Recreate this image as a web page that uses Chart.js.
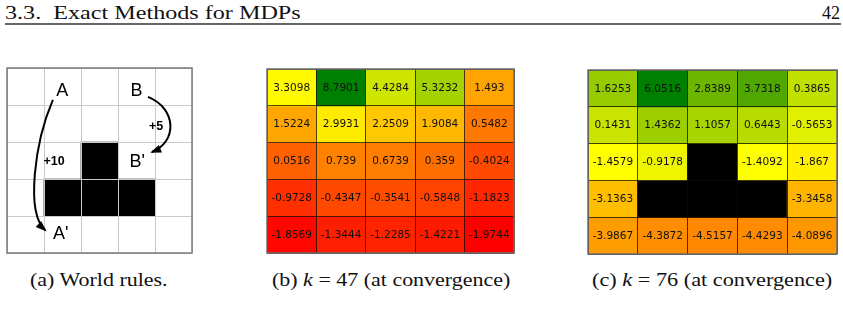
<!DOCTYPE html>
<html>
<head>
<meta charset="utf-8">
<script src="https://cdn.jsdelivr.net/npm/chart.js@4.4.1/dist/chart.umd.min.js"></script>
<style>
  body { margin: 0; background: #fff; width: 843px; height: 318px; position: relative; overflow: hidden; font-family: "Liberation Serif", serif; color: #111; }
  canvas { position: absolute; }
  .txt { position: absolute; white-space: pre; line-height: 1; transform-origin: left top; }
  .rule { position: absolute; left: 5px; top: 23px; width: 836px; height: 1.5px; background: #666; }
</style>
</head>
<body>
<div class="txt" id="head" style="left:5px;top:4px;font-size:18px">3.3.  Exact Methods for MDPs</div>
<div class="txt" id="page" style="left:822px;top:4px;font-size:18px">42</div>
<div class="rule"></div>

<canvas id="worldChart" width="195" height="195" style="left:2px;top:63px"></canvas>
<canvas id="k47Chart" width="257" height="194" style="left:262px;top:64px"></canvas>
<canvas id="k76Chart" width="259" height="194" style="left:583px;top:65px"></canvas>

<div class="txt" id="capA" style="left:30px;top:271px;font-size:18px">(a) World rules.</div>
<div class="txt" id="capB" style="left:272px;top:271px;font-size:18px">(b) <i>k</i> = 47 (at convergence)</div>
<div class="txt" id="capC" style="left:592px;top:271px;font-size:18px">(c) <i>k</i> = 76 (at convergence)</div>

<script>
// grid world 5x5
const columns = ['1', '2', '3', '4', '5'];
const rowIndex = [0, 1, 2, 3, 4];

// 1 = wall
const worldWalls = [
  [0, 0, 0, 0, 0],
  [0, 0, 0, 0, 0],
  [0, 0, 1, 0, 0],
  [0, 1, 1, 1, 0],
  [0, 0, 0, 0, 0]
];

// state values at convergence, row by row (null = wall)
const valuesK47 = [
  [3.3098, 8.7901, 4.4284, 5.3232, 1.493],
  [1.5224, 2.9931, 2.2509, 1.9084, 0.5482],
  [0.0516, 0.739, 0.6739, 0.359, -0.4024],
  [-0.9728, -0.4347, -0.3541, -0.5848, -1.1823],
  [-1.8569, -1.3444, -1.2285, -1.4221, -1.9744]
];
const valuesK76 = [
  [1.6253, 6.0516, 2.8389, 3.7318, 0.3865],
  [0.1431, 1.4362, 1.1057, 0.6443, -0.5653],
  [-1.4579, -0.9178, null, -1.4092, -1.867],
  [-3.1363, null, null, null, -3.3458],
  [-3.9867, -4.3872, -4.5157, -4.4293, -4.0896]
];

// red -> yellow -> green, value at each stop
const coloursK47 = [-1.9744, 3.408, 8.7901];
const coloursK76 = [-8.0, -1.46, 6.0516];

function cellColour(v, stops) {
  if (v === null) return '#000';
  const [lo, mid, hi] = stops;
  if (v <= mid) {
    const t = Math.max(0, Math.min(1, (v - lo) / (mid - lo)));
    return `rgb(255,${Math.round(255 * t)},0)`;
  }
  const t = Math.max(0, Math.min(1, (v - mid) / (hi - mid)));
  return `rgb(${Math.round(255 * (1 - t))},${Math.round(255 - 127 * t)},0)`;
}

// x position in cell units (0..5) -> pixel
function px(chart, u) { return chart.scales.x.getPixelForValue(u - 0.5); }
function py(chart, u) { return chart.scales.y.getPixelForValue(u); }

const framePlugin = {
  id: 'frame',
  afterDraw(chart, args, opts) {
    const a = chart.chartArea, ctx = chart.ctx;
    ctx.save();
    ctx.strokeStyle = opts.color;
    ctx.lineWidth = opts.width;
    ctx.strokeRect(a.left, a.top, a.right - a.left, a.bottom - a.top);
    ctx.restore();
  }
};

const cellTextPlugin = {
  id: 'cellText',
  afterDraw(chart, args, opts) {
    if (!opts.rows) return;
    const ctx = chart.ctx;
    ctx.save();
    ctx.font = '10.5px "DejaVu Sans"';
    ctx.fillStyle = '#111';
    ctx.textAlign = 'center';
    ctx.textBaseline = 'middle';
    opts.rows.forEach((row, r) => {
      const meta = chart.getDatasetMeta(r);
      row.forEach((v, c) => {
        if (v === null) return;
        const el = meta.data[c];
        ctx.fillText(String(v), el.x, (el.y + el.base) / 2 + 0.5);
      });
    });
    ctx.restore();
  }
};

// world rules: A -> A' (+10), B -> B' (+5)
const worldMarks = [
  { text: 'A', x: 1.49, y: 0.63 },
  { text: 'B', x: 3.5, y: 0.63 },
  { text: "A'", x: 1.45, y: 4.5 },
  { text: "B'", x: 3.52, y: 2.55 }
];
const worldRewards = [
  { text: '+10', x: 1.27, y: 2.54 },
  { text: '+5', x: 4.03, y: 1.57 }
];
const worldArrows = [
  [[1.24, 0.86], [0.75, 2.0], [0.5, 3.9], [1.03, 4.38]],
  [[3.81, 0.78], [4.6, 1.1], [4.6, 2.0], [3.92, 2.27]]
];

const worldPlugin = {
  id: 'worldRules',
  afterDraw(chart) {
    const ctx = chart.ctx;
    ctx.save();
    ctx.fillStyle = '#000';
    ctx.strokeStyle = '#000';
    ctx.textAlign = 'center';
    ctx.textBaseline = 'middle';
    ctx.font = '18px "Liberation Sans"';
    worldMarks.forEach(m => ctx.fillText(m.text, px(chart, m.x), py(chart, m.y)));
    ctx.font = 'bold 12.5px "Liberation Sans"';
    worldRewards.forEach(m => ctx.fillText(m.text, px(chart, m.x), py(chart, m.y)));
    ctx.lineWidth = 2;
    worldArrows.forEach(pts => {
      const p = pts.map(q => [px(chart, q[0]), py(chart, q[1])]);
      ctx.beginPath();
      ctx.moveTo(p[0][0], p[0][1]);
      ctx.bezierCurveTo(p[1][0], p[1][1], p[2][0], p[2][1], p[3][0], p[3][1]);
      ctx.stroke();
      const ang = Math.atan2(p[3][1] - p[2][1], p[3][0] - p[2][0]);
      const L = 9, W = 4;
      ctx.beginPath();
      ctx.moveTo(p[3][0] + Math.cos(ang) * 2, p[3][1] + Math.sin(ang) * 2);
      ctx.lineTo(p[3][0] - Math.cos(ang) * L - Math.sin(ang) * W, p[3][1] - Math.sin(ang) * L + Math.cos(ang) * W);
      ctx.lineTo(p[3][0] - Math.cos(ang) * L + Math.sin(ang) * W, p[3][1] - Math.sin(ang) * L - Math.cos(ang) * W);
      ctx.closePath();
      ctx.fill();
    });
    ctx.restore();
  }
};

function gridOptions(lineColor, frameColor, frameWidth, rows) {
  return {
    responsive: false,
    animation: false,
    layout: { padding: 5 },
    plugins: {
      legend: { display: false },
      tooltip: { enabled: false },
      frame: { color: frameColor, width: frameWidth },
      cellText: { rows: rows }
    },
    scales: {
      x: {
        type: 'category',
        offset: true,
        ticks: { display: false },
        border: { display: false },
        grid: { offset: true, drawTicks: false, color: lineColor, lineWidth: 1, z: 1 }
      },
      y: {
        type: 'linear',
        min: 0, max: 5, reverse: true,
        ticks: { display: false, stepSize: 1 },
        border: { display: false },
        grid: { drawTicks: false, color: lineColor, lineWidth: 1, z: 1 }
      }
    }
  };
}

function rowDatasets(rows, colourOf) {
  return rows.map((row, r) => ({
    data: row.map(v => (v === undefined ? null : [rowIndex[r], rowIndex[r] + 1])),
    backgroundColor: row.map(colourOf),
    borderWidth: 0,
    grouped: false,
    barPercentage: 1,
    categoryPercentage: 1
  }));
}

// (a) world rules
const wallRows = worldWalls.map(row => row.map(w => (w ? 1 : undefined)));
new Chart(document.getElementById('worldChart'), {
  type: 'bar',
  data: { labels: columns, datasets: rowDatasets(wallRows, () => '#000') },
  options: gridOptions('#c9c9c9', '#7a7a7a', 1.5, null),
  plugins: [framePlugin, worldPlugin]
});

// (b) k = 47
new Chart(document.getElementById('k47Chart'), {
  type: 'bar',
  data: { labels: columns, datasets: rowDatasets(valuesK47, v => cellColour(v, coloursK47)) },
  options: gridOptions('rgba(20,10,0,0.75)', '#6e6e6e', 1.5, valuesK47),
  plugins: [framePlugin, cellTextPlugin]
});

// (c) k = 76
new Chart(document.getElementById('k76Chart'), {
  type: 'bar',
  data: { labels: columns, datasets: rowDatasets(valuesK76, v => cellColour(v, coloursK76)) },
  options: gridOptions('rgba(20,10,0,0.75)', '#6e6e6e', 1.5, valuesK76),
  plugins: [framePlugin, cellTextPlugin]
});

// stretch the serif texts to the widths of the typeset page
function fitWidth(id, target) {
  const el = document.getElementById(id);
  el.style.transform = `scaleX(${target / el.offsetWidth})`;
}
fitWidth('head', 295);
fitWidth('capA', 138);
fitWidth('capB', 238);
fitWidth('capC', 240);
</script>
</body>
</html>
